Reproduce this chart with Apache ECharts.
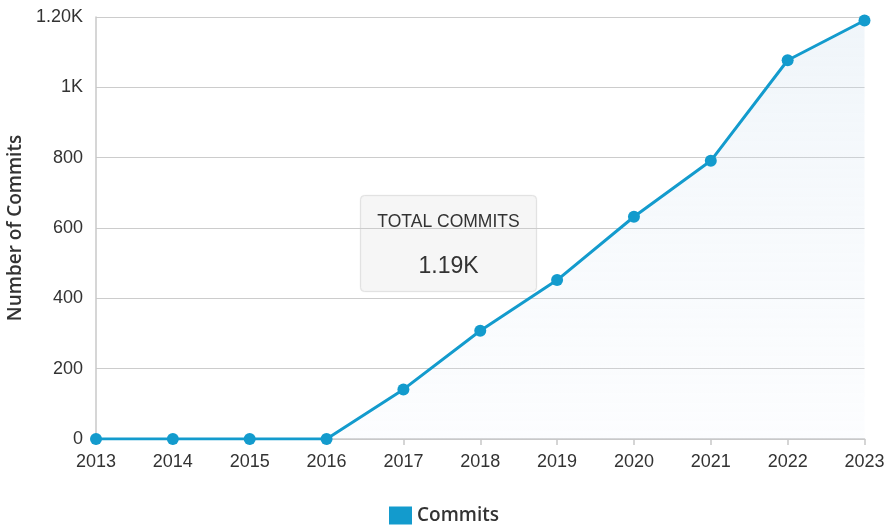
<!DOCTYPE html>
<html>
<head>
<meta charset="utf-8">
<script src="https://cdn.jsdelivr.net/npm/echarts@6/dist/echarts.min.js"></script>
<style>html,body{margin:0;padding:0;background:#fff;}#c{width:888px;height:531px;}</style>
</head>
<body>
<div id="c"></div>
<script>
const years = ['2013','2014','2015','2016','2017','2018','2019','2020','2021','2022','2023'];
const commits = [0, 0, 0, 0, 141, 308, 452, 632, 791, 1077, 1190];
const yTickLabels = {0:'0',200:'200',400:'400',600:'600',800:'800',1000:'1K',1200:'1.20K'};
const totalLabel = 'TOTAL COMMITS';
const totalValue = '1.19K';

const chart = echarts.init(document.getElementById('c'));
const font = '"Liberation Sans", Arial, sans-serif';
chart.setOption({
  animation: false,
  grid: {left: 96, right: 23.5, top: 17, bottom: 92, containLabel: false, outerBoundsMode: 'none'},
  legend: {
    bottom: 1, left: 'center',
    data: [{name: 'Commits', icon: 'rect'}],
    itemWidth: 23, itemHeight: 18, itemGap: 10,
    textStyle: {fontFamily: '"Open Sans", sans-serif', fontWeight: 600, fontSize: 19, color: '#333'}
  },
  xAxis: {
    type: 'category', data: years, boundaryGap: false,
    axisLine: {lineStyle: {color: '#c8c8c8', width: 1.5}},
    axisTick: {show: true, length: 6, lineStyle: {color: '#c8c8c8', width: 1.5}},
    axisLabel: {color: '#333', fontSize: 18, fontFamily: font, margin: 14}
  },
  yAxis: {
    type: 'value', min: 0, max: 1200, interval: 200,
    name: 'Number of Commits', nameLocation: 'middle', nameGap: 62, nameRotate: 90,
    nameTextStyle: {color: '#333', fontSize: 19, fontWeight: 600, fontFamily: '"Open Sans", sans-serif'},
    axisLine: {show: true, lineStyle: {color: '#c8c8c8', width: 1.5}},
    axisTick: {show: false},
    axisLabel: {color: '#333', fontSize: 18, fontFamily: font, margin: 13,
      formatter: v => yTickLabels[v] !== undefined ? yTickLabels[v] : String(v)},
    splitLine: {lineStyle: {color: '#cccccc', width: 1.2}}
  },
  series: [{
    name: 'Commits', type: 'line', data: commits,
    symbol: 'circle', symbolSize: 12,
    itemStyle: {color: '#139bcd'},
    lineStyle: {color: '#139bcd', width: 3},
    areaStyle: {
      color: new echarts.graphic.LinearGradient(0, 0, 0, 1, [
        {offset: 0, color: 'rgba(200,220,236,0.40)'},
        {offset: 1, color: 'rgba(225,235,248,0.15)'}
      ])
    },
    z: 3
  }],
  graphic: [{
    type: 'group', left: 360, top: 195, z: 10,
    children: [
      {type: 'rect', shape: {x: 0, y: 0, width: 176, height: 96, r: 4},
       style: {fill: '#f6f6f6', stroke: '#e2e2e2', lineWidth: 1,
               shadowBlur: 2, shadowColor: 'rgba(0,0,0,0.06)'}},
      {type: 'text', x: 88, y: 27, style: {text: totalLabel, align: 'center', verticalAlign: 'middle',
        fill: '#333', fontSize: 17.5, fontFamily: font}},
      {type: 'text', x: 88, y: 71, style: {text: totalValue, align: 'center', verticalAlign: 'middle',
        fill: '#333', fontSize: 23, fontFamily: font}}
    ]
  }]
});
</script>
</body>
</html>
